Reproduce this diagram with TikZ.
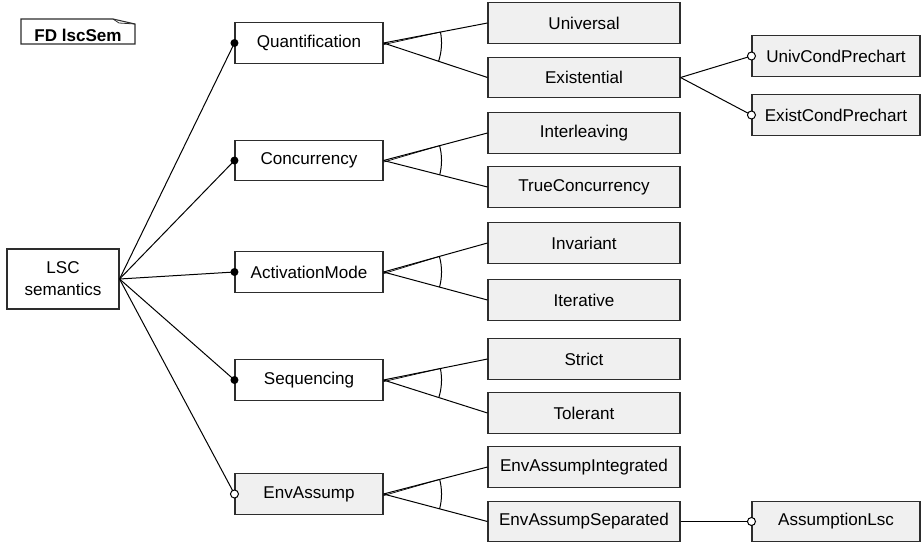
\documentclass[tikz,border=0pt]{standalone}
\usepackage{fontspec}
\setmainfont{Liberation Sans}
\usetikzlibrary{calc}
\definecolor{boxgray}{RGB}{240,240,240}
\definecolor{bordc}{RGB}{45,45,45}
\newcommand\altgrp[3]{%
  \draw[conn] (#1.east) -- (#2.west);
  \draw[conn] (#1.east) -- (#3.west);
  \draw[conn] let \p1=($(#2.west)-(#1.east)$), \p2=($(#3.west)-(#1.east)$),
      \n1={atan2(\y1,\x1)}, \n2={atan2(\y2,\x2)} in
      ($(#1.east)+(\n1:43.5pt)$) arc[start angle=\n1, end angle=\n2, radius=43.5pt];
  \draw[conn, line width=0.5pt] ($(#1.east)+(0,1.6)$) -- ($(#1.east)!43.5pt!(#2.west)$);
}
\begin{document}
\begin{tikzpicture}[x=0.75pt,y=-0.75pt,
  base/.style={draw=bordc, line width=0.8pt, inner sep=0pt, align=center,
    font=\fontsize{12.8}{16.5}\selectfont},
  whitebox/.style={base, fill=white},
  graybox/.style={base, fill=boxgray},
  parentbox/.style={minimum width=111pt, minimum height=30.5pt},
  childbox/.style={minimum width=144pt, minimum height=30.5pt},
  rightbox/.style={minimum width=126pt, minimum height=30.5pt},
  conn/.style={line width=0.75pt, black},
  mand/.style={fill=black},
  opt/.style={draw=black, fill=white, line width=0.75pt},
]
\useasboundingbox (0,0) rectangle (922,547);

% title
\draw[fill=white, line width=0.8pt, draw=bordc] (21,44) -- (21,19) -- (113,19) -- (135,24) -- (135,44) -- cycle;
\draw[line width=0.6pt, draw=bordc] (113,19) -- (119,23) -- (135,24);
\node[anchor=base, inner sep=0pt, font=\fontsize{12.8}{15}\selectfont\bfseries] (title) at (78,41) {FD lscSem};

% root
\node[whitebox, minimum width=84pt, minimum height=45pt] (lsc) at (63,279) {LSC\\semantics};

% parents
\node[whitebox, parentbox] (q) at (309,43) {Quantification};
\node[whitebox, parentbox] (c) at (309,160.5) {Concurrency};
\node[whitebox, parentbox] (a) at (309,272) {ActivationMode};
\node[whitebox, parentbox] (s) at (309,380) {Sequencing};
\node[graybox, parentbox] (e) at (309,494) {EnvAssump};

% children
\node[graybox, childbox] (univ) at (584,23) {Universal};
\node[graybox, childbox] (exist) at (584,77.5) {Existential};
\node[graybox, childbox] (inter) at (584,133) {Interleaving};
\node[graybox, childbox] (truec) at (584,187) {TrueConcurrency};
\node[graybox, childbox] (inv) at (584,243) {Invariant};
\node[graybox, childbox] (iter) at (584,300) {Iterative};
\node[graybox, childbox] (strict) at (584,359) {Strict};
\node[graybox, childbox] (tol) at (584,413) {Tolerant};
\node[graybox, childbox] (eai) at (584,467) {EnvAssumpIntegrated};
\node[graybox, childbox] (eas) at (584,521.5) {EnvAssumpSeparated};

% right column
\node[graybox, rightbox] (ucp) at (836,56) {UnivCondPrechart};
\node[graybox, rightbox] (ecp) at (836,115) {ExistCondPrechart};
\node[graybox, rightbox] (alsc) at (836,521.5) {AssumptionLsc};

% root connectors
\foreach \p in {q,c,a,s,e} { \draw[conn] (lsc.east) -- (\p.west); }
\foreach \p in {q,c,a,s} { \fill[mand] (\p.west) circle (3pt); }
\draw[opt] (e.west) circle (3pt);

% alternative groups
\altgrp{q}{univ}{exist}
\altgrp{c}{inter}{truec}
\altgrp{a}{inv}{iter}
\altgrp{s}{strict}{tol}
\altgrp{e}{eai}{eas}

% optional sub-features
\draw[conn] (exist.east) -- (ucp.west);
\draw[conn] (exist.east) -- (ecp.west);
\draw[conn] (eas.east) -- (alsc.west);
\draw[opt] (ucp.west) circle (3pt);
\draw[opt] (ecp.west) circle (3pt);
\draw[opt] (alsc.west) circle (3pt);
\end{tikzpicture}
\end{document}
